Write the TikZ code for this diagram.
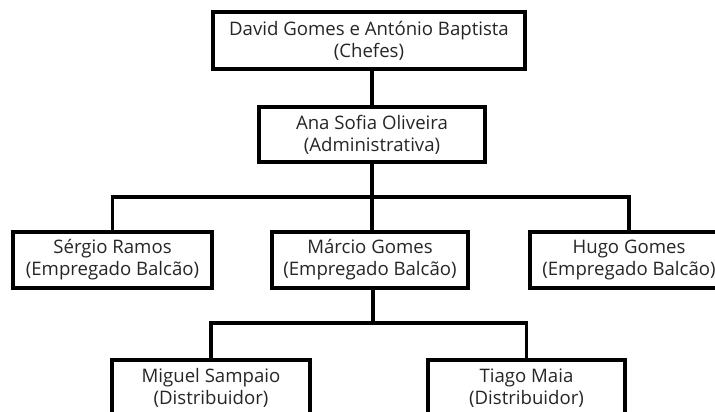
\documentclass[tikz,border=0pt]{standalone}
\usepackage{fontspec}
\setmainfont{Open Sans}
\begin{document}
\begin{tikzpicture}[x=1pt,y=-1pt,
  box/.style={draw=black, line width=3.3pt, fill=white, align=center, inner sep=0pt,
    font=\fontsize{18.6}{22}\selectfont, text=black!85},
  conn/.style={draw=black, line width=3.3pt}]
\useasboundingbox (0,0) rectangle (715,412);
\clip (0,0) rectangle (715,412);
\node[box, minimum width=312pt, minimum height=57pt] (top) at (369,40.5) {David Gomes e António Baptista\\(Chefes)};
\node[box, minimum width=226pt, minimum height=55pt] (ana) at (372,134.5) {Ana Sofia Oliveira\\(Administrativa)};
\node[box, minimum width=199pt, minimum height=56pt] (sergio) at (112.5,260) {Sérgio Ramos\\(Empregado Balcão)};
\node[box, minimum width=196pt, minimum height=56pt] (marcio) at (370,260) {Márcio Gomes\\(Empregado Balcão)};
\node[box, minimum width=198pt, minimum height=56pt] (hugo) at (629,260) {Hugo Gomes\\(Empregado Balcão)};
\node[box, minimum width=198pt, minimum height=56pt] (miguel) at (211,388) {Miguel Sampaio\\(Distribuidor)};
\node[box, minimum width=197pt, minimum height=56pt] (tiago) at (526.5,388) {Tiago Maia\\(Distribuidor)};
\coordinate (busA) at (0,197);
\coordinate (busB) at (0,323);
\draw[conn] (ana.north) -- (ana.north |- top.south);
\draw[conn] (ana.south) -- (ana.south |- marcio.north);
\draw[conn] (sergio.north) -- (sergio.north |- busA) -- (hugo.north |- busA) -- (hugo.north);
\draw[conn] ([xshift=3pt]marcio.south) -- ([xshift=3pt]marcio.south |- busB);
\draw[conn] (miguel.north) -- (miguel.north |- busB) -- (tiago.north |- busB) -- (tiago.north);
\end{tikzpicture}
\end{document}
